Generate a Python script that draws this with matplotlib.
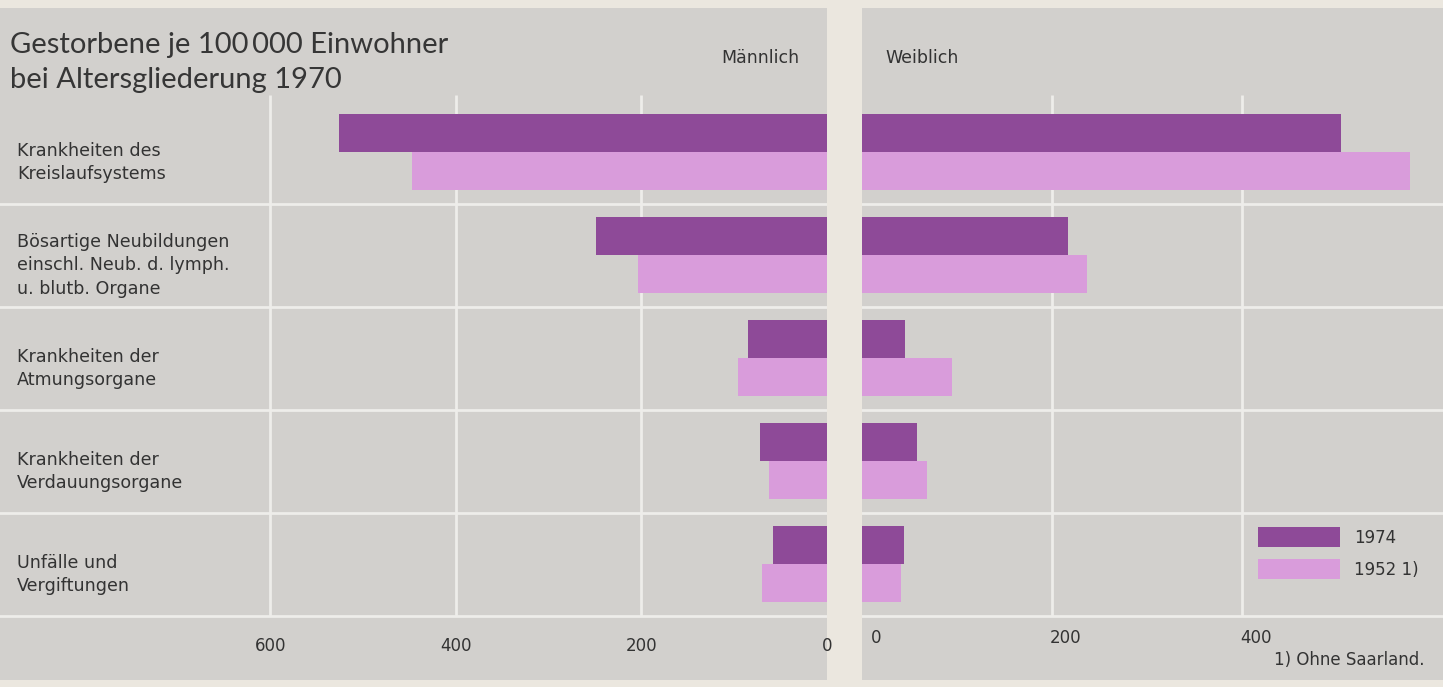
import matplotlib
matplotlib.use("Agg")
import matplotlib.pyplot as plt
from matplotlib.patches import Patch

# ---------------- data ----------------
categories = [
    "Krankheiten des\nKreislaufsystems",
    "Bösartige Neubildungen\neinschl. Neub. d. lymph.\nu. blutb. Organe",
    "Krankheiten der\nAtmungsorgane",
    "Krankheiten der\nVerdauungsorgane",
    "Unfälle und\nVergiftungen",
]
male_1974 = [526, 249, 85, 72, 58]
male_1952 = [447, 204, 96, 62, 70]
female_1974 = [504, 217, 45, 58, 44]
female_1952 = [577, 237, 95, 68, 41]
series_labels = ["1974", "1952 1)"]
left_ticks = [600, 400, 200, 0]
right_ticks = [0, 200, 400]
title_lines = ["Gestorbene je 100\u2009000 Einwohner", "bei Altersgliederung 1970"]
panel_titles = ["Männlich", "Weiblich"]
footnote = "1) Ohne Saarland."

# ---------------- style ----------------
W, H = 1443, 687
BG = "#ebe7df"
PANEL = "#d2d0cd"
GRID = "#eeedea"
DARK = "#8e4a98"
LIGHT = "#d99cdb"
TXT = "#333333"

fig = plt.figure(figsize=(W / 100, H / 100), dpi=100, facecolor=BG)

y_top_px, y_bot_px = 8, 680
cat0_px, band_px = 152, 103
ylim = ((y_bot_px - cat0_px) / band_px, -(cat0_px - y_top_px) / band_px)

axL = fig.add_axes([0, 1 - y_bot_px / H, 827 / W, (y_bot_px - y_top_px) / H])
axR = fig.add_axes([862 / W, 1 - y_bot_px / H, (W - 862) / W, (y_bot_px - y_top_px) / H])

axL.set_xlim(827 / 0.928, 0)
axR.set_xlim(0, (W - 862) / 0.95)

n = len(categories)
ypos = list(range(n))
bh = 0.37

for ax, d74, d52, gl in [(axL, male_1974, male_1952, [200, 400, 600]),
                         (axR, female_1974, female_1952, [200, 400])]:
    ax.set_facecolor(PANEL)
    ax.set_ylim(*ylim)
    for s in ax.spines.values():
        s.set_visible(False)
    ax.set_xticks([])
    ax.set_yticks([])
    for g in gl:
        ax.plot([g, g], [-0.55, n - 0.5], color=GRID, lw=2.0, zorder=1,
                solid_capstyle="butt")
    for k in range(n):
        ax.axhline(k + 0.5, color=GRID, lw=2.0, zorder=1)
    ax.barh([y - bh / 2 for y in ypos], d74, height=bh, color=DARK, zorder=3)
    ax.barh([y + bh / 2 for y in ypos], d52, height=bh, color=LIGHT, zorder=3)

# category labels
x_lab = axL.get_xlim()[0] - 17 / 0.928
for i, c in enumerate(categories):
    axL.text(x_lab, i + 0.1, c, ha="left", va="center", fontsize=12.6,
             color=TXT, linespacing=1.38, family="DejaVu Sans", zorder=4)

# tick labels
tick_y = 4.8
for t in left_ticks:
    axL.text(t, tick_y, str(t), ha="center", va="center", fontsize=12,
             color=TXT, family="DejaVu Sans")
for t in right_ticks:
    axR.text(t + 14 / 0.95, tick_y - 0.08, str(t), ha="center", va="center",
             fontsize=12, color=TXT, family="DejaVu Sans")

# titles
fig.text(10 / W, 1 - 45 / H, title_lines[0], ha="left", va="center",
         fontsize=21, color="#363636", family="Lato", fontweight="normal")
fig.text(10 / W, 1 - 80 / H, title_lines[1], ha="left", va="center",
         fontsize=21, color="#363636", family="Lato", fontweight="normal")
fig.text(760 / W, 1 - 58 / H, panel_titles[0], ha="center", va="center",
         fontsize=12.5, color=TXT, family="DejaVu Sans")
fig.text(922 / W, 1 - 58 / H, panel_titles[1], ha="center", va="center",
         fontsize=12.5, color=TXT, family="DejaVu Sans")

# legend
handles = [Patch(facecolor=DARK, edgecolor="none"),
           Patch(facecolor=LIGHT, edgecolor="none")]
leg = fig.legend(handles, series_labels, loc="upper left",
                 bbox_to_anchor=(1258 / W, 1 - 527 / H),
                 bbox_transform=fig.transFigure, frameon=False,
                 borderpad=0, borderaxespad=0, handlelength=4.9,
                 handleheight=1.5, labelspacing=0.7, handletextpad=0.85,
                 prop={"family": "DejaVu Sans", "size": 12})
for t in leg.get_texts():
    t.set_color(TXT)

fig.text(1425 / W, 1 - 660 / H, footnote, ha="right", va="center",
         fontsize=12, color=TXT, family="DejaVu Sans")

fig.savefig("out.png", dpi=100, facecolor=BG)
